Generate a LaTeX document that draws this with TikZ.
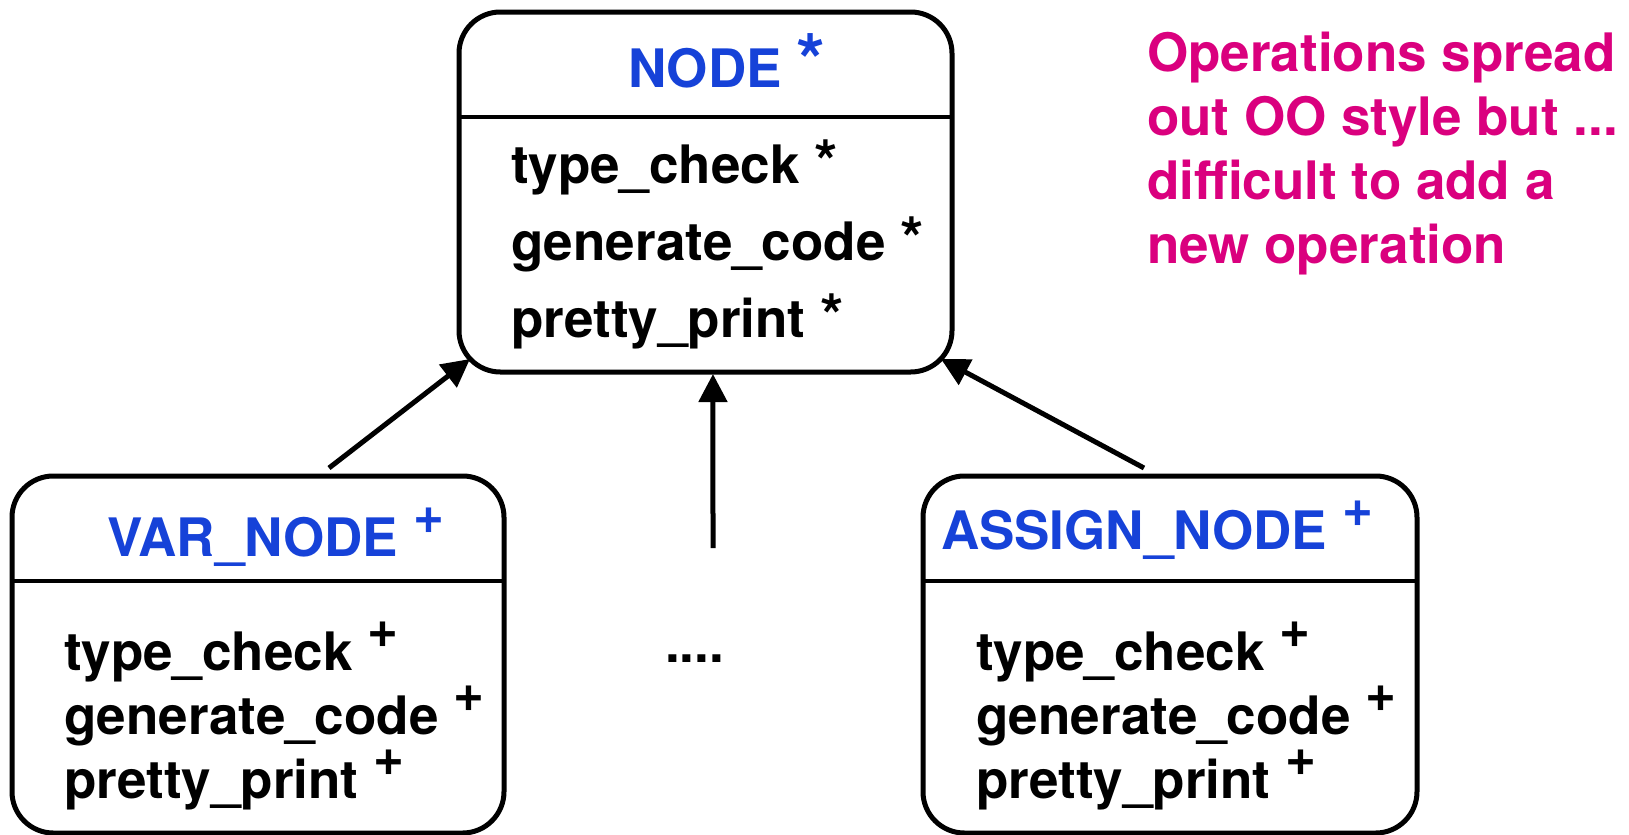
\documentclass[tikz,border=0pt]{standalone}
\usepackage{fontspec}
\setmainfont{TeX Gyre Heros}
\usetikzlibrary{arrows.meta}
\definecolor{hblue}{RGB}{22,66,216}
\definecolor{hmag}{RGB}{218,0,126}
\newcommand\hdstar{{\fontsize{55.5pt}{55.5pt}\selectfont *}}
\newcommand\opstar{{\fontsize{45pt}{45pt}\selectfont *}}
\newcommand\plusmk{\raisebox{16.75pt}[0pt][0pt]{+}}
\begin{document}
\begin{tikzpicture}[x=0.75pt,y=-0.75pt,
  box/.style={draw, line width=3.75pt, rounded corners=31pt, inner sep=0pt, outer sep=0pt},
  txt/.style={anchor=base west, inner sep=0pt, outer sep=0pt, font=\bfseries\fontsize{39.75pt}{48pt}\selectfont},
  title/.style={txt, text=hblue},
  note/.style={txt, text=hmag},
  divider/.style={line width=3.5pt},
  arr/.style={line width=3.75pt, -{Triangle[length=21pt,width=21pt]}}]
\useasboundingbox (0,0) rectangle (1629,835);
% boxes
\node[box, minimum width=369.75pt, minimum height=270pt] (top) at (705.5,192) {};
\node[box, minimum width=369pt, minimum height=267.75pt] (var) at (258,654.5) {};
\node[box, minimum width=370.5pt, minimum height=267.75pt] (assign) at (1170,654.5) {};
% dividers
\draw[divider] ([yshift=-78.75pt]top.north west) -- ([yshift=-78.75pt]top.north east);
\draw[divider] ([yshift=-78.75pt]var.north west) -- ([yshift=-78.75pt]var.north east);
\draw[divider] ([yshift=-78.75pt]assign.north west) -- ([yshift=-78.75pt]assign.north east);
% NODE box text
\node[title] (topT) at (628,87) {NODE \hdstar};
\node[txt] (topA) at (511,183) {type\_check \opstar};
\node[txt] (topB) at (511,260) {generate\_code \opstar};
\node[txt] (topC) at (511,337) {pretty\_print \opstar};
% VAR_NODE box text
\node[title] (varT) at (107,556) {VAR\_NODE \plusmk};
\node[txt] (varA) at (64,670) {type\_check \plusmk};
\node[txt] (varB) at (64,734) {generate\_code \plusmk};
\node[txt] (varC) at (64,798) {pretty\_print \plusmk};
% ASSIGN_NODE box text
\node[title] (asT) at (941,549) {ASSIGN\_NODE \plusmk};
\node[txt] (asA) at (976,670) {type\_check \plusmk};
\node[txt] (asB) at (976,734) {generate\_code \plusmk};
\node[txt] (asC) at (976,798) {pretty\_print \plusmk};
% dots
\node[txt] (dots) at (665,662) {....};
% note
\node[note] (n1) at (1147,71) {Operations spread};
\node[note] (n2) at (1147,135) {out OO style but ...};
\node[note] (n3) at (1147,199) {difficult to add a};
\node[note] (n4) at (1147,263) {new operation};
% connectors
\coordinate (tipL) at ([xshift=8.25pt,yshift=9.75pt]top.south west);
\coordinate (tipR) at ([xshift=-8.25pt,yshift=9.75pt]top.south east);
\coordinate (tipM) at ([xshift=5.6pt,yshift=-1.5pt]top.south);
\coordinate (tailL) at (329,468);
\coordinate (tailR) at (1144,468);
\coordinate (tailM) at (713,548);
\draw[arr] (tailL) -- (tipL);
\draw[arr] (tailR) -- (tipR);
\draw[arr] (tailM) -- (tipM);
\end{tikzpicture}
\end{document}
